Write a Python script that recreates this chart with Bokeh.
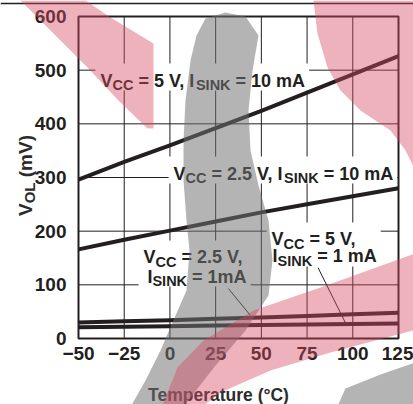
import math
from bokeh.plotting import figure
from bokeh.models import PolyAnnotation, Label, FixedTicker, Range1d, LinearAxis
from bokeh.core.properties import value
from bokeh.embed import file_html
from bokeh.resources import INLINE

# ---------------- data ----------------
temps = [-50, -25, 0, 25, 50, 75, 100, 125]
vol_5v_10ma = [296, 329, 360, 392, 424, 458, 492, 526]
vol_25v_10ma = [166, 184, 201, 218, 235, 250, 265, 280]
vol_25v_1ma = [30, 32, 34, 37, 39, 42, 45, 48]
vol_5v_1ma = [21, 22, 23, 24, 25, 26, 27, 28]

x_ticks = [-50, -25, 0, 25, 50, 75, 100, 125]
x_tick_labels = ["\u221250", "\u221225", "0", "25", "50", "75", "100", "125"]
y_ticks = [0, 100, 200, 300, 400, 500, 600]
y_tick_labels = ["0", "100", "200", "300", "400", "500", "600"]

x_title = "Temperature (\u00b0C)"
y_title_parts = [("V", 0), ("OL", 1), (" (mV)", 0)]

# curve labels: lines of (anchor temp, anchor mV, [(text, is_sub)])
label_5v_10ma = [(-38.0, 480.7, [("V", 0), ("CC", 1), (" = 5 V, I", 0), ("SINK", 1), (" = 10 mA", 0)])]
label_25v_10ma = [(2.0, 307.4, [("V", 0), ("CC", 1), (" = 2.5 V, I", 0), ("SINK", 1), (" = 10 mA", 0)])]
label_25v_1ma = [(-14.4, 151.0, [("V", 0), ("CC", 1), (" = 2.5 V,", 0)]),
                 (-12.3, 115.5, [("I", 0), ("SINK", 1), (" = 1mA", 0)])]
label_5v_1ma = [(55.6, 184.5, [("V", 0), ("CC", 1), (" = 5 V,", 0)]),
                (56.1, 152.8, [("I", 0), ("SINK", 1), (" = 1 mA", 0)])]

# leader lines (temp, mV)
leader_25v_1ma = ([32, 44], [93, 43])
leader_5v_1ma = ([81, 96], [132, 29])

# ---------------- styling / geometry ----------------
INK = "#231f20"
FONT = "Liberation Sans"
W, H = 413, 404
BOX_L, BOX_R, BOX_T, BOX_B = 78, 398, 16, 338   # plot box in canvas px
X0, X1 = min(x_ticks), max(x_ticks)
Y0, Y1 = min(y_ticks), max(y_ticks)
XPP = (X1 - X0) / (BOX_R - BOX_L)
YPP = (Y1 - Y0) / (BOX_B - BOX_T)

def rx(px):  # canvas px -> temperature
    return X0 + (px - BOX_L) * XPP

def ry(py):  # canvas px -> mV
    return Y0 + (BOX_B - py) * YPP

def px_of(x):
    return BOX_L + (x - X0) / XPP

def py_of(y):
    return BOX_B - (y - Y0) / YPP

CW = {"V": .667, "C": .722, " ": .278, "=": .584, "5": .556, "2": .556, ".": .278,
      ",": .278, "I": .278, "S": .667, "N": .722, "K": .722, "1": .556, "0": .556,
      "m": .889, "A": .722, "O": .778, "L": .611, "(": .333, ")": .333}

def tw(s, size):
    return sum(CW.get(c, .6) for c in s) * size

MAIN, SUB, SUBDROP = 18, 14.5, 4.5

p = figure(width=W, height=H, output_backend="svg", toolbar_location=None,
           x_range=Range1d(rx(0), rx(W)), y_range=Range1d(ry(H), ry(0)),
           x_axis_location=None, y_axis_location=None, min_border=0)
p.background_fill_color = "white"
p.border_fill_color = "white"
p.outline_line_color = None
p.grid.visible = False

yax = LinearAxis(fixed_location=X0)
xax = LinearAxis(fixed_location=Y0)
p.add_layout(yax, "left")
p.add_layout(xax, "below")
for ax in (xax, yax):
    ax.axis_line_color = None
    ax.major_tick_line_color = None
    ax.minor_tick_line_color = None
    ax.major_tick_out = 0
    ax.major_tick_in = 0
    ax.minor_tick_out = 0
    ax.major_label_text_font = FONT
    ax.major_label_text_font_style = "bold"
    ax.major_label_text_font_size = "19px"
    ax.major_label_text_color = INK
xax.ticker = FixedTicker(ticks=x_ticks)
yax.ticker = FixedTicker(ticks=y_ticks)
xax.major_label_overrides = dict(zip(x_ticks, x_tick_labels))
yax.major_label_overrides = dict(zip(y_ticks, y_tick_labels))
xax.major_label_standoff = 8
yax.major_label_standoff = 12

# page rule along the top edge
p.segment(x0=[rx(0)], y0=[ry(3)], x1=[rx(W)], y1=[ry(3)], line_color=INK, line_width=1.5)

# grid lines at the tick positions, inside the plot box
inner_x = x_ticks[1:-1]
inner_y = y_ticks[1:-1]
p.segment(x0=inner_x, y0=[Y0] * len(inner_x), x1=inner_x, y1=[Y1] * len(inner_x),
          line_color=INK, line_width=1)
p.segment(x0=[X0] * len(inner_y), y0=inner_y, x1=[X1] * len(inner_y), y1=inner_y,
          line_color=INK, line_width=1)

# ---- label boxes + text ----
def build_label(lines):
    xs, ys, texts, xo, fs = [], [], [], [], []
    lefts, rights, tops, bots = [], [], [], []
    for (ax_, ay_, parts) in lines:
        cum = 0.0
        base_py = py_of(ay_)
        for (t, sub) in parts:
            size = SUB if sub else MAIN
            lead = len(t) - len(t.lstrip(" "))
            cum += tw(" " * lead, size)
            t2 = t.strip(" ")
            xs.append(ax_)
            ys.append(ry(base_py + SUBDROP) if sub else ay_)
            texts.append(t2)
            xo.append(cum)
            fs.append(f"{size}px")
            cum += tw(t2, size)
        lx = px_of(ax_)
        lefts.append(lx)
        rights.append(lx + cum)
        tops.append(base_py - 14)
        bots.append(base_py + 8)
    box = (rx(min(lefts) - 5), rx(max(rights) + 4), ry(min(tops) - 3), ry(max(bots) + 2))
    return dict(x=xs, y=ys, text=texts, xo=xo, fs=fs), box

all_labels = [label_5v_10ma, label_25v_10ma, label_25v_1ma, label_5v_1ma]
built = [build_label(l) for l in all_labels]
for src, (l, r, t, b) in built:
    p.quad(left=[l], right=[r], top=[t], bottom=[b], fill_color="white", line_color=None)

for series in (vol_5v_10ma, vol_25v_10ma, vol_25v_1ma, vol_5v_1ma):
    p.line(temps, series, line_color=INK, line_width=4, line_join="round")

for lx, ly in (leader_25v_1ma, leader_5v_1ma):
    p.line(lx, ly, line_color=INK, line_width=1)

for src, box in built:
    p.text(x="x", y="y", text="text", x_offset="xo", text_font_size="fs", source=src,
           text_font=value(FONT), text_font_style="bold", text_color=INK,
           text_align="left", text_baseline="alphabetic")

# plot box
p.quad(left=[X0], right=[X1], bottom=[Y0], top=[Y1], fill_color=None,
       line_color=INK, line_width=2)

# ---- axis titles ----
p.add_layout(Label(x=rx(218), y=ry(394.5), text=x_title, text_align="center",
                   text_baseline="alphabetic", text_font=FONT, text_font_style="bold",
                   text_font_size="17.5px", text_color="#2b2b2b"))

YT_MAIN, YT_SUB = 19, 15
total = sum(tw(t, YT_SUB if s else YT_MAIN) for t, s in y_title_parts)
start_py = 175 + total / 2.0
cum = 0.0
for t, s in y_title_parts:
    size = YT_SUB if s else YT_MAIN
    lead = len(t) - len(t.lstrip(" "))
    cum += tw(" " * lead, size)
    t2 = t.strip(" ")
    p.add_layout(Label(x=rx(25), y=ry(start_py - cum), text=t2, angle=math.pi / 2,
                       x_offset=4 if s else 0, text_align="left", text_baseline="alphabetic",
                       text_font=FONT, text_font_style="bold", text_font_size=f"{size}px",
                       text_color="#2b2b2b"))
    cum += tw(t2, size)

# ---- background watermark (canvas px) ----
wm_red_tl = [(20, 0), (53, 33), (87, 67), (118, 100), (147, 128), (153, 128), (153, 43), (110, 17), (85, 0)]
wm_red_tr = [(313, 0), (317, 33), (327, 67), (340, 90), (360, 110), (390, 130), (405, 150), (420, 180), (420, 0)]
wm_red_low = [(160, 410), (177, 367), (203, 340), (253, 310), (320, 287), (420, 251),
              (420, 328), (330, 352), (270, 370), (220, 392), (197, 410)]
wm_gray_c = [(205, 18), (196, 35), (190, 60), (185, 100), (183, 140), (183, 180), (186, 220),
             (189, 250), (186, 290), (175, 315), (160, 350), (145, 380), (128, 410), (180, 410),
             (215, 365), (245, 330), (268, 295), (272, 260), (268, 220), (258, 185), (250, 150),
             (248, 110), (252, 70), (258, 35), (245, 16), (225, 12)]
wm_gray_br = [(335, 410), (345, 388), (380, 374), (420, 360), (420, 410)]

for shape, col, a in ((wm_gray_c, "#717171", 0.53), (wm_gray_br, "#717171", 0.53),
                      (wm_red_tl, "#d6475f", 0.42), (wm_red_tr, "#d6475f", 0.42),
                      (wm_red_low, "#d6475f", 0.42)):
    p.add_layout(PolyAnnotation(xs=[rx(u) for u, v in shape], ys=[ry(v) for u, v in shape],
                                fill_color=col, fill_alpha=a, line_color=None, level="overlay"))

open("out.html", "w").write(file_html(p, INLINE))
